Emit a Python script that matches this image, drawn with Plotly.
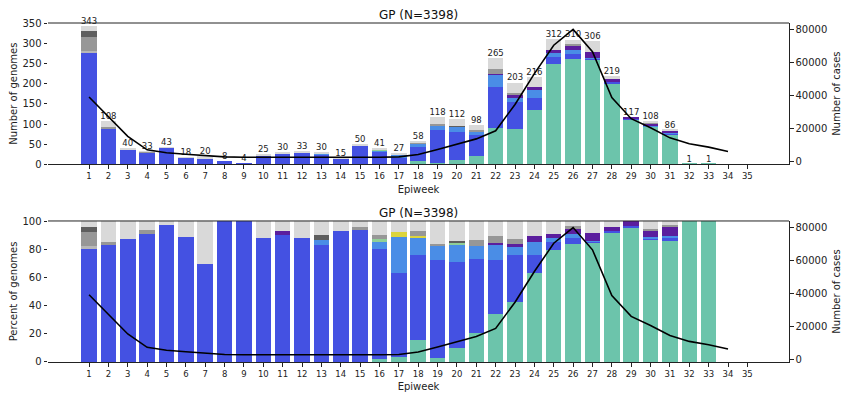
import plotly.graph_objects as go
from plotly.subplots import make_subplots

# ---------------- data ----------------
weeks = list(range(1, 36))

# genome counts per lineage group per epiweek (weeks 1..35)
delta     = [0, 0, 0, 0, 0, 0, 0, 0, 0, 0, 0, 0, 0, 0, 0, 1, 1, 9, 3, 11, 20, 91, 87, 136, 249, 261, 258, 201, 112, 94, 74, 1, 1, 0, 0]
beta      = [278, 90, 35, 30, 42, 16, 14, 8, 4, 22, 27, 29, 25, 14, 47, 32, 16, 35, 83, 69, 52, 101, 67, 29, 17, 12, 5, 3, 1, 1, 2, 0, 0, 0, 0]
c1        = [0, 0, 0, 0, 0, 0, 0, 0, 0, 0, 0, 0, 1, 0, 0, 2, 7, 7, 11, 13, 9, 30, 12, 19, 10, 10, 1, 0, 0, 1, 1, 0, 0, 0, 0]
eta       = [0, 0, 0, 0, 0, 0, 0, 0, 0, 0, 0, 0, 0, 0, 0, 1, 0, 0, 0, 2, 0, 0, 0, 0, 0, 0, 0, 0, 0, 0, 0, 0, 0, 0, 0]
alpha     = [0, 0, 0, 0, 0, 0, 0, 0, 0, 0, 0, 0, 0, 0, 0, 0, 1, 1, 0, 0, 0, 0, 0, 0, 0, 0, 0, 0, 0, 0, 0, 0, 0, 0, 0]
c12       = [0, 0, 0, 0, 0, 0, 0, 0, 0, 0, 1, 0, 0, 0, 0, 0, 0, 0, 0, 0, 0, 2, 5, 9, 8, 11, 16, 7, 4, 5, 6, 0, 0, 0, 0]
b11       = [4, 0, 0, 0, 0, 0, 0, 0, 0, 0, 0, 0, 0, 0, 0, 0, 0, 0, 0, 0, 0, 0, 0, 0, 0, 0, 0, 0, 0, 0, 0, 0, 0, 0, 0]
b1154     = [34, 2, 0, 1, 0, 0, 0, 0, 0, 0, 0, 0, 0, 0, 1, 1, 0, 2, 2, 0, 4, 14, 6, 0, 0, 5, 0, 0, 0, 1, 1, 0, 0, 0, 0]
b11448    = [14, 0, 0, 0, 0, 0, 0, 0, 0, 0, 0, 0, 1, 0, 0, 0, 0, 0, 0, 1, 0, 0, 0, 0, 0, 0, 0, 0, 0, 0, 0, 0, 0, 0, 0]
other     = [13, 16, 5, 2, 1, 2, 6, 0, 0, 3, 2, 4, 3, 1, 2, 4, 2, 4, 19, 16, 13, 27, 26, 23, 28, 11, 26, 8, 0, 6, 2, 0, 0, 0, 0]

# reported cases per epiweek (weeks 1..34)
case_weeks = list(range(1, 35))
cases = [39000, 27000, 15200, 7100, 5300, 4400, 3400, 2800, 2600, 2600, 2400, 2400, 2300, 2400,
         2600, 2600, 2800, 4300, 7300, 10300, 13700, 18600, 34500, 53100, 70300, 79800, 66300,
         38600, 25900, 20400, 14300, 10700, 8700, 6100]

case_ticks = [0, 20000, 40000, 60000, 80000]

series = [
    ("Delta", delta, "#6cc4ab"),
    ("Beta", beta, "#4451e2"),
    ("C.1", c1, "#4a8de6"),
    ("Eta", eta, "#90cf96"),
    ("Alpha", alpha, "#dcd43c"),
    ("C.1.2", c12, "#5b1e9e"),
    ("B.1.1", b11, "#b7b7b7"),
    ("B.1.1.54", b1154, "#979797"),
    ("B.1.1.448", b11448, "#5e5e5e"),
    ("Other", other, "#d9d9d9"),
]

totals = [sum(s[1][i] for s in series) for i in range(len(weeks))]
N = sum(totals)

# ---------------- figure ----------------
fig = make_subplots(rows=2, cols=1, specs=[[{"secondary_y": True}], [{"secondary_y": True}]])

for name, vals, col in series:
    fig.add_trace(go.Bar(x=weeks, y=vals, name=name, marker=dict(color=col, line=dict(width=0)),
                         width=0.8, showlegend=False), row=1, col=1, secondary_y=False)
    pct = [v / t * 100 if t > 0 else 0 for v, t in zip(vals, totals)]
    fig.add_trace(go.Bar(x=weeks, y=pct, name=name, marker=dict(color=col, line=dict(width=0)),
                         width=0.8, showlegend=False), row=2, col=1, secondary_y=False)

lab_x = [w for w, t in zip(weeks, totals) if t > 0]
lab_y = [t for t in totals if t > 0]
fig.add_trace(go.Scatter(x=lab_x, y=lab_y, mode="text", text=[str(t) for t in lab_y],
                         textposition="top center", cliponaxis=False,
                         textfont=dict(size=8.5, color="#222222", family="DejaVu Sans"),
                         showlegend=False), row=1, col=1, secondary_y=False)

for r in (1, 2):
    fig.add_trace(go.Scatter(x=case_weeks, y=cases, mode="lines",
                             line=dict(color="black", width=1.6), showlegend=False),
                  row=r, col=1, secondary_y=True)

font = "DejaVu Sans"
xcommon = dict(range=[-1.12, 37.15], tickmode="array", tickvals=weeks, ticktext=[str(w) for w in weeks],
               tickfont=dict(size=8.5, family=font, color="#222"), ticks="outside", ticklen=3.5,
               tickwidth=0.8, tickcolor="#222", showline=True, linecolor="#222", linewidth=1,
               showgrid=False, zeroline=False, automargin=False,
               title=dict(text="Epiweek", font=dict(size=10, family=font, color="#222"), standoff=5))
fig.update_xaxes(**xcommon)
fig.update_xaxes(domain=[0, 1])

ycommon = dict(tickfont=dict(size=10, family=font, color="#222"), ticks="outside", ticklen=3.5,
               tickwidth=0.8, tickcolor="#222", showgrid=False, zeroline=False, automargin=False)

# the page body has an 8px margin, so the figure is sized to end at the window edge
fig.update_layout(
    width=842, height=391,
    margin=dict(l=40, r=61, t=15, b=37),
    paper_bgcolor="white", plot_bgcolor="white",
    barmode="stack",
    font=dict(family=font, color="#222"),
    yaxis=dict(domain=[0.583, 1.0], range=[0, 351], tickvals=list(range(0, 351, 50)),
               title=dict(text="Number of genomes", font=dict(size=10, family=font, color="#222"), standoff=4), **ycommon),
    yaxis2=dict(range=[-1700, 83700], tickvals=case_ticks, ticktext=[str(v) for v in case_ticks],
                showline=True, linecolor="#222", linewidth=1,
                title=dict(text="Number of cases", font=dict(size=10, family=font, color="#222"), standoff=6), **ycommon),
    yaxis3=dict(domain=[0, 0.416], range=[0, 100.3], tickvals=list(range(0, 101, 20)),
                title=dict(text="Percent of genomes", font=dict(size=10, family=font, color="#222"), standoff=4), **ycommon),
    yaxis4=dict(range=[-1800, 83800], tickvals=case_ticks, ticktext=[str(v) for v in case_ticks],
                showline=True, linecolor="#222", linewidth=1,
                title=dict(text="Number of cases", font=dict(size=10, family=font, color="#222"), standoff=6), **ycommon),
)

# top spines
for yd in (1.0, 0.416):
    fig.add_shape(type="line", xref="paper", yref="paper", x0=0, x1=1, y0=yd, y1=yd,
                  line=dict(color="#222", width=1))

for yd in (1.0, 0.416):
    fig.add_annotation(text=f"GP (N={N})", xref="paper", yref="paper", x=0.5, y=yd,
                       yanchor="bottom", yshift=-1, showarrow=False,
                       font=dict(size=12, family=font, color="#111"))

fig.write_html("out.html")
